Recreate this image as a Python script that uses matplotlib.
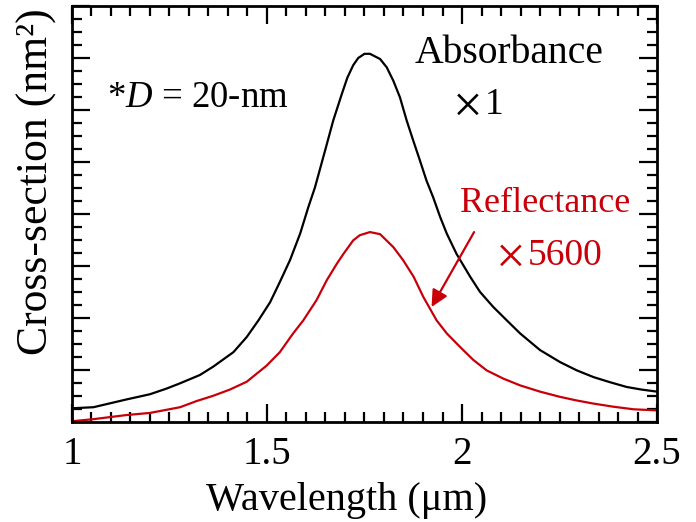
import matplotlib
matplotlib.use("Agg")
import matplotlib.pyplot as plt
from matplotlib.ticker import MultipleLocator

plt.rcParams['font.family'] = ['Liberation Serif', 'DejaVu Serif']
plt.rcParams['mathtext.fontset'] = 'custom'
plt.rcParams['mathtext.rm'] = 'Liberation Serif'
plt.rcParams['mathtext.it'] = 'Liberation Serif:italic'

RED = '#c8000a'

# absorbance cross-section (x1)
abs_wl = [1.0, 1.055, 1.14, 1.2, 1.243, 1.277, 1.328, 1.362, 1.414, 1.448,
          1.478, 1.508, 1.533, 1.559, 1.585, 1.606, 1.623, 1.649, 1.670, 1.692,
          1.706, 1.721, 1.734, 1.750, 1.764, 1.790, 1.807, 1.824, 1.841, 1.858,
          1.875, 1.892, 1.909, 1.926, 1.944, 1.961, 1.986, 2.021, 2.046, 2.08,
          2.115, 2.149, 2.2, 2.251, 2.294, 2.337, 2.38, 2.422, 2.46, 2.5]
abs_val = [0.26, 0.28, 0.43, 0.53, 0.64, 0.74, 0.90, 1.06, 1.34, 1.63,
           1.95, 2.30, 2.69, 3.11, 3.62, 4.13, 4.51, 5.22, 5.80, 6.31,
           6.62, 6.86, 7.00, 7.08, 7.08, 6.98, 6.82, 6.56, 6.24, 5.80,
           5.41, 5.03, 4.64, 4.32, 3.94, 3.62, 3.23, 2.79, 2.50, 2.21,
           1.95, 1.70, 1.38, 1.15, 0.99, 0.86, 0.76, 0.67, 0.62, 0.58]

# reflectance cross-section (x5600)
ref_wl = [1.0, 1.055, 1.14, 1.2, 1.277, 1.320, 1.362, 1.405, 1.448, 1.499,
          1.533, 1.567, 1.593, 1.627, 1.653, 1.679, 1.696, 1.721, 1.738, 1.764,
          1.79, 1.824, 1.849, 1.876, 1.901, 1.935, 1.961, 1.995, 2.029, 2.063,
          2.106, 2.149, 2.2, 2.251, 2.294, 2.337, 2.388, 2.44, 2.5]
ref_val = [0.01, 0.05, 0.13, 0.17, 0.28, 0.40, 0.50, 0.62, 0.77, 1.08,
           1.34, 1.70, 1.95, 2.34, 2.72, 3.04, 3.23, 3.49, 3.59, 3.65,
           3.61, 3.36, 3.11, 2.79, 2.40, 1.95, 1.70, 1.44, 1.19, 0.99,
           0.83, 0.70, 0.58, 0.48, 0.41, 0.35, 0.29, 0.24, 0.22]

fig = plt.figure(figsize=(6.96, 5.22), dpi=100)
ax = fig.add_axes([0.1034, 0.192, 0.8406, 0.7965])

ax.plot(abs_wl, abs_val, color='black', lw=1.6)
ax.plot(ref_wl, ref_val, color=RED, lw=1.6)

ax.set_xlim(1, 2.5)
ax.set_ylim(0, 8)
ax.xaxis.set_major_locator(MultipleLocator(0.5))
ax.xaxis.set_minor_locator(MultipleLocator(0.05))
ax.yaxis.set_major_locator(MultipleLocator(1))
ax.yaxis.set_minor_locator(MultipleLocator(0.25))
ax.set_xticks([1, 1.5, 2, 2.5])
ax.set_xticklabels(['1', '1.5', '2', '2.5'])
ax.tick_params(which='both', direction='in', top=True, right=True, width=1.6)
ax.tick_params(which='major', length=13)
ax.tick_params(which='minor', length=7)
ax.tick_params(axis='x', labelsize=28, pad=10)
ax.tick_params(axis='y', labelleft=False)
for s in ax.spines.values():
    s.set_linewidth(2)

ax.set_xlabel('Wavelength (μm)', fontsize=29)
ax.xaxis.set_label_coords(0.47, -0.145)
ax.set_ylabel('Cross-section (nm²)', fontsize=31.5)
ax.yaxis.set_label_coords(-0.025, 0.577)

ax.text(1.09, 6.05, '*$\\mathit{D}$ = 20-nm', fontsize=26.5, va='baseline')
ax.text(1.879, 6.9, 'Absorbance', fontsize=28.5, va='baseline')
ax.text(1.976, 5.78, '×', fontsize=38, va='baseline')
ax.text(2.058, 5.93, '1', fontsize=27, va='baseline')
ax.text(1.995, 4.03, 'Reflectance', fontsize=26, va='baseline', color=RED)
ax.text(2.086, 2.86, '×', fontsize=38, va='baseline', color=RED)
ax.text(2.168, 3.01, '5600', fontsize=27, va='baseline', color=RED)

ax.annotate('', xy=(1.922, 2.21), xytext=(2.031, 3.65),
            arrowprops=dict(arrowstyle='-|>,head_length=1.0,head_width=0.5',
                            color=RED, lw=1.6, shrinkA=0, shrinkB=0))

fig.savefig('out.png', dpi=100)
